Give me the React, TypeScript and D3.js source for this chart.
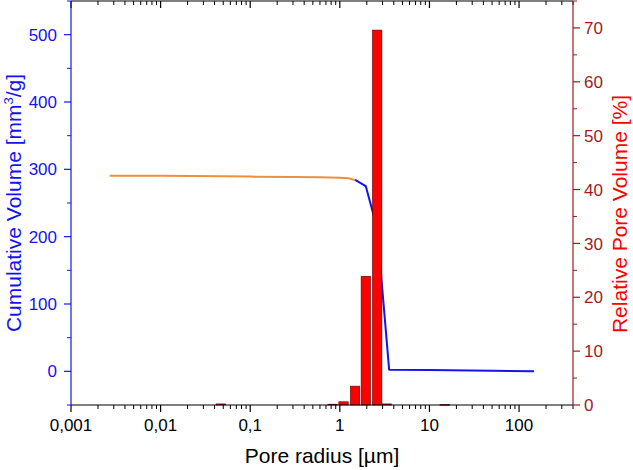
import React from "react";
import * as d3 from "d3";

// relative pore volume distribution (bars)
const barRadii = [0.047, 0.83, 1.1, 1.48, 1.95, 2.61, 3.35, 14.8];
const barValues = [0.2, 0.15, 0.6, 3.5, 23.9, 69.6, 0.2, 0.1];

// cumulative volume, extrapolated part (orange)
const extrapRadii = [0.0027, 0.01, 0.05, 0.1, 0.3, 0.6, 1.0, 1.25, 1.48];
const extrapVolume = [290.5, 290.3, 289.8, 289.2, 288.6, 288.1, 287.4, 286.6, 284.2];

// cumulative volume, measured part (blue)
const measRadii = [1.48, 1.95, 2.61, 3.55, 10, 50, 147];
const measVolume = [284.2, 275, 212, 2.5, 2, 1, 0];

const xTicks = [0.001, 0.01, 0.1, 1, 10, 100];
const xTickLabels = ["0,001", "0,01", "0,1", "1", "10", "100"];
const leftTicks = [0, 100, 200, 300, 400, 500];
const rightTicks = [0, 10, 20, 30, 40, 50, 60, 70];

const W = 633;
const H = 470;
const m = { left: 71, right: 60, top: 1, bottom: 65 };
const FONT = "'Liberation Sans', Arial, sans-serif";
const BLUE = "#1414f0";
const RED = "#ff0000";
const DARKRED = "#a01c1c";
const ORANGE = "#ef8f3a";

export default function App() {
  const x = d3.scaleLog().domain([0.001, 400]).range([m.left, W - m.right]);
  const yL = d3.scaleLinear().domain([-50, 550]).range([H - m.bottom, m.top]);
  const yR = d3.scaleLinear().domain([0, 75]).range([H - m.bottom, m.top]);

  const x0 = m.left;
  const x1 = W - m.right;
  const yTop = m.top;
  const yBot = H - m.bottom;

  const minorX: number[] = [];
  xTicks.forEach((d) => {
    for (let k = 2; k <= 9; k++) if (d * k <= 400) minorX.push(d * k);
  });

  const line = d3
    .line<[number, number]>()
    .x((d) => x(d[0]))
    .y((d) => yL(d[1]));

  const extrap = extrapRadii.map((r, i) => [r, extrapVolume[i]] as [number, number]);
  const meas = measRadii.map((r, i) => [r, measVolume[i]] as [number, number]);

  const binRatio = 1.32;
  const half = Math.sqrt(binRatio);

  const leftMinor = d3.range(-50, 551, 50).filter((v) => v % 100 !== 0);
  const rightMinor = d3.range(5, 76, 10);

  return (
    <svg
      width={W}
      height={H}
      style={{ position: "absolute", left: 0, top: 0, background: "#fff" }}
      fontFamily={FONT}
    >
      {/* cumulative curve, drawn under the bars */}
      <path d={line(extrap) || ""} fill="none" stroke={ORANGE} strokeWidth={2} />
      <path d={line(meas) || ""} fill="none" stroke={BLUE} strokeWidth={2} strokeLinejoin="round" />

      {/* bars */}
      {barRadii.map((r, i) => {
        const bx0 = x(r / half) + 0.7;
        const bx1 = x(r * half) - 0.7;
        const by = yR(barValues[i]);
        return (
          <rect
            key={i}
            x={bx0}
            y={by}
            width={bx1 - bx0}
            height={Math.max(0.8, yBot - by)}
            fill={RED}
            stroke="#5a0000"
            strokeWidth={0.6}
          />
        );
      })}

      {/* frame: top and bottom axes */}
      <line x1={x0} x2={x1} y1={yTop} y2={yTop} stroke="#000" strokeWidth={1.2} />
      <line x1={x0} x2={x1} y1={yBot} y2={yBot} stroke="#000" strokeWidth={1.2} />
      {xTicks.map((t) => (
        <g key={t}>
          <line x1={x(t)} x2={x(t)} y1={yBot} y2={yBot + 7} stroke="#000" strokeWidth={1.2} />
          <line x1={x(t)} x2={x(t)} y1={yTop} y2={yTop + 7} stroke="#000" strokeWidth={1.2} />
        </g>
      ))}
      {minorX.map((t) => (
        <g key={"m" + t}>
          <line x1={x(t)} x2={x(t)} y1={yBot} y2={yBot + 4} stroke="#000" strokeWidth={1} />
          <line x1={x(t)} x2={x(t)} y1={yTop} y2={yTop + 4} stroke="#000" strokeWidth={1} />
        </g>
      ))}
      {xTicks.map((t, i) => (
        <text key={"l" + t} x={x(t)} y={yBot + 26} fontSize={17} textAnchor="middle" fill="#000">
          {xTickLabels[i]}
        </text>
      ))}
      <text x={(x0 + x1) / 2} y={H - 7} fontSize={21} textAnchor="middle" fill="#000">
        Pore radius [µm]
      </text>

      {/* left axis */}
      <line x1={x0} x2={x0} y1={yTop} y2={yBot} stroke={BLUE} strokeWidth={1.2} />
      {leftTicks.map((t) => (
        <g key={"yl" + t}>
          <line x1={x0 - 7} x2={x0} y1={yL(t)} y2={yL(t)} stroke={BLUE} strokeWidth={1.2} />
          <text x={x0 - 14} y={yL(t)} dy="0.36em" fontSize={17} textAnchor="end" fill={BLUE}>
            {t}
          </text>
        </g>
      ))}
      {leftMinor.map((t) => (
        <line key={"ylm" + t} x1={x0 - 4} x2={x0} y1={yL(t)} y2={yL(t)} stroke={BLUE} strokeWidth={1} />
      ))}
      <text
        transform={`translate(21,${(yTop + yBot) / 2}) rotate(-90)`}
        fontSize={21}
        textAnchor="middle"
        fill={BLUE}
      >
        Cumulative Volume [mm<tspan fontSize={13} dy={-8}>3</tspan>
        <tspan dy={8}>/g]</tspan>
      </text>

      {/* right axis */}
      <line x1={x1} x2={x1} y1={yTop} y2={yBot} stroke={DARKRED} strokeWidth={1.2} />
      {rightTicks.map((t) => (
        <g key={"yr" + t}>
          <line x1={x1} x2={x1 + 7} y1={yR(t)} y2={yR(t)} stroke={DARKRED} strokeWidth={1.2} />
          <text x={x1 + 11} y={yR(t)} dy="0.36em" fontSize={17} textAnchor="start" fill={DARKRED}>
            {t}
          </text>
        </g>
      ))}
      {rightMinor.map((t) => (
        <line key={"yrm" + t} x1={x1} x2={x1 + 4} y1={yR(t)} y2={yR(t)} stroke={DARKRED} strokeWidth={1} />
      ))}
      <text
        transform={`translate(627,214) rotate(-90)`}
        fontSize={21}
        textAnchor="middle"
        fill={RED}
      >
        Relative Pore Volume [%]
      </text>
    </svg>
  );
}
